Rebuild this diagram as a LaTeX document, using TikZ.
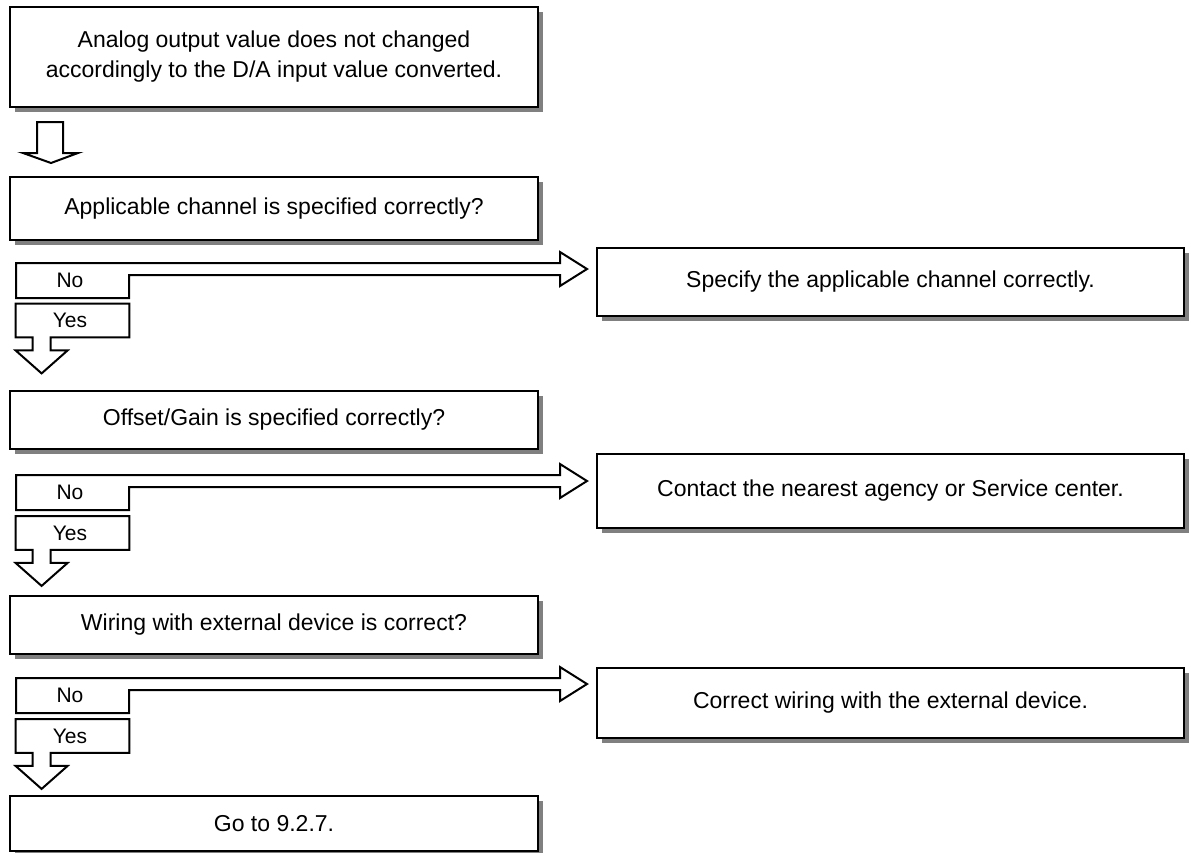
\documentclass[tikz,border=0pt]{standalone}
\usepackage{fontspec}
\setmainfont{Liberation Sans}
\usetikzlibrary{calc,shadows}
\tikzset{
  mainbox/.style={draw=black, fill=white, line width=1pt, minimum width=264pt,
                  inner sep=0pt, align=center, font=\fontsize{11.5}{15}\selectfont,
                  drop shadow={shadow xshift=2.5pt, shadow yshift=-2.5pt, fill=black!50, opacity=1}},
  sidebox/.style={mainbox, minimum width=293.5pt},
  answer/.style={minimum width=56.5pt, inner sep=0pt, font=\fontsize{10.5}{12}\selectfont},
  hollow/.style={draw=black, fill=white, line width=1pt, line join=miter}
}
\begin{document}
\begin{tikzpicture}[x=0.5pt, y=-0.5pt]
  \useasboundingbox (0,0) rectangle (1192,852);
  % checks down the left
  \node[mainbox, minimum height=50pt] (b1) at (274,57) {Analog output value does not changed\\accordingly to the D/A input value converted.};
  \node[mainbox, minimum height=31.5pt] (b2) at (274,208.5) {Applicable channel is specified correctly?};
  \node[mainbox, minimum height=29pt] (b3) at (274,420) {Offset/Gain is specified correctly?};
  \node[mainbox, minimum height=29pt] (b4) at (274,625) {Wiring with external device is correct?};
  \node[mainbox, minimum height=27.5pt] (b5) at (274,823.5) {Go to 9.2.7.};
  % remedies on the right
  \node[sidebox, minimum height=34pt] (s2) at (890.5,282) {Specify the applicable channel correctly.};
  \node[sidebox, minimum height=37pt] (s3) at (890.5,491) {Contact the nearest agency or Service center.};
  \node[sidebox, minimum height=35pt] (s4) at (890.5,703) {Correct wiring with the external device.};
  % first hollow arrow
  \draw[hollow] ($(b1.south west)+(28,14)$) -- ++(26,0) -- ++(0,31) -- ++(15,0)
    -- ++(-27,10) -- ++(-28,-10) -- ++(14,0) -- cycle;
  % No / Yes branches
  \foreach \i/\ny/\yy in {2/280.5/320.5, 3/492.5/533, 4/695.5/736} {
    \draw[hollow] (16,\ny-17.5) -- ($(s\i.west |- 0,\ny-17.5)+(-36,0)$) -- ++(0,-11)
      -- ($(s\i.west |- 0,\ny-11.5)+(-9,0)$) -- ($(s\i.west |- 0,\ny-17.5)+(-36,23)$) -- ++(0,-11)
      -- (129,\ny-5.5) -- (129,\ny+17.5) -- (16,\ny+17.5) -- cycle;
    \node[answer, minimum height=17.5pt] (n\i) at (70,\ny) {No};
    \node[answer, minimum height=16.5pt] (y\i) at (72.5,\yy) {};
    \draw[hollow] (y\i.north west) -- (y\i.north east) -- (y\i.south east)
      -- ($(y\i.south west)+(35,0)$) -- ++(0,13) -- ++(17,0) -- ++(-26,23) -- ++(-26,-23)
      -- ++(17,0) -- ++(0,-13) -- (y\i.south west) -- cycle;
    \node[answer, minimum height=16.5pt] at ($(y\i)+(-2.5,0)$) {Yes};
  }
\end{tikzpicture}
\end{document}
